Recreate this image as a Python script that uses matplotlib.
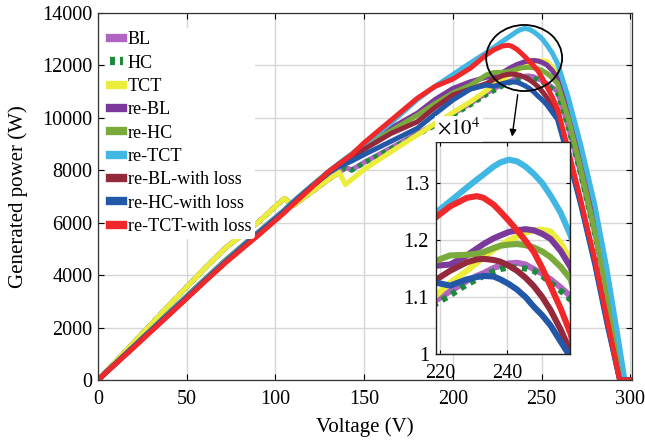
import matplotlib
matplotlib.use("Agg")
import matplotlib.pyplot as plt
from matplotlib.patches import Ellipse
from matplotlib.lines import Line2D

plt.rcParams["font.family"] = ["Liberation Serif", "DejaVu Serif"]
plt.rcParams["mathtext.fontset"] = "stix"

# Voltage grid (V) shared by all P-V curves
voltage = [0, 20, 40, 60, 72, 90, 105, 110, 120, 130, 136, 139.5, 143, 150, 165,
           180, 190, 200, 210,
           219, 223, 228, 231, 233, 236, 238, 240.5, 243, 245.5, 248, 250.5, 253, 256, 259,
           265, 272, 280, 287, 294, 297, 300]

# Generated power (W) for each configuration
bl = [0, 1420, 2850, 4250, 5050, 6000, 6930, 6650, 7150, 7650, 7920, 8100, 8020, 8300, 8850,
      9400, 9750, 10150, 10550,
      10950, 11100, 11280, 11370, 11420, 11510, 11550, 11590, 11600, 11570, 11490, 11410, 11310, 11170, 11010,
      9700, 7900, 5600, 3200, 500, 0, 0]
hc = [0, 1420, 2850, 4250, 5050, 6000, 6930, 6650, 7150, 7650, 7920, 8100, 8000, 8280, 8820,
      9360, 9710, 10100, 10500,
      10890, 11030, 11220, 11310, 11370, 11450, 11490, 11520, 11520, 11500, 11460, 11370, 11250, 11110, 10950,
      9650, 7850, 5550, 3150, 500, 0, 0]
tct = [0, 1420, 2850, 4250, 5050, 6000, 6930, 6650, 7150, 7650, 7920, 7450, 7650, 8030, 8700,
       9350, 9780, 10200, 10620,
       11040, 11250, 11460, 11600, 11700, 11830, 11900, 11990, 12060, 12130, 12170, 12180, 12150, 11950, 11650,
       10200, 8200, 5800, 3300, 600, 0, 0]
re_bl = [0, 1280, 2560, 3830, 4580, 5620, 6480, 6800, 7380, 7950, 8250, 8420, 8580, 8950, 9600,
         10180, 10700, 11120, 11380,
         11550, 11570, 11730, 11850, 11930, 12030, 12080, 12140, 12170, 12190, 12170, 12110, 12020, 11810, 11520,
         10300, 8400, 5900, 3400, 700, 0, 0]
re_hc = [0, 1280, 2560, 3830, 4580, 5620, 6480, 6800, 7380, 7950, 8230, 8400, 8550, 8900, 9500,
         10100, 10550, 10950, 11250,
         11640, 11730, 11740, 11760, 11790, 11860, 11900, 11920, 11930, 11910, 11870, 11800, 11700, 11530, 11310,
         10000, 8100, 5700, 3300, 600, 0, 0]
re_tct = [0, 1270, 2540, 3800, 4550, 5600, 6470, 6800, 7380, 7950, 8270, 8450, 8620, 9000, 9800,
          10700, 11200, 11650, 12100,
          12490, 12680, 12920, 13060, 13150, 13290, 13360, 13410, 13380, 13290, 13160, 13000, 12780, 12480, 12080,
          10800, 9000, 6700, 4200, 1300, 0, 0]
re_bl_loss = [0, 1250, 2500, 3760, 4500, 5560, 6420, 6750, 7350, 7900, 8200, 8350, 8480, 8800, 9400,
              9850, 10400, 10870, 11100,
              11310, 11460, 11610, 11660, 11670, 11650, 11620, 11550, 11460, 11340, 11190, 11000, 10770, 10430, 10030,
              8600, 6800, 4500, 2200, 0, 0, 0]
re_hc_loss = [0, 1260, 2520, 3780, 4520, 5580, 6440, 6760, 7350, 7900, 8150, 8250, 8350, 8600, 9100,
              9600, 10150, 10680, 11100,
              11250, 11200, 11310, 11350, 11370, 11360, 11310, 11230, 11130, 11000, 10830, 10680, 10500, 10220, 9940,
              8500, 6700, 4400, 2100, 0, 0, 0]
re_tct_loss = [0, 1230, 2480, 3740, 4480, 5500, 6380, 6700, 7320, 7950, 8250, 8420, 8600, 9050, 9900,
               10750, 11200, 11480, 11900,
               12410, 12590, 12740, 12770, 12740, 12620, 12500, 12340, 12170, 11990, 11790, 11510, 11190, 10800, 10350,
               8800, 6900, 4600, 2300, 0, 0, 0]

labels = ["BL", "HC", "TCT", "re-BL", "re-HC", "re-TCT",
          "re-BL-with loss", "re-HC-with loss", "re-TCT-with loss"]
powers = [bl, hc, tct, re_bl, re_hc, re_tct, re_bl_loss, re_hc_loss, re_tct_loss]
colors = ["#b165c3", "#1e8a3c", "#ecec3a", "#7b3a9b", "#7aa93c", "#41b7e4",
          "#93293b", "#2357a8", "#f0282a"]
styles = ["-", (0, (0.9, 0.9)), "-", "-", "-", "-", "-", "-", "-"]

W, H = 645, 442
fig = plt.figure(figsize=(W / 100, H / 100), dpi=100)
ax = fig.add_axes([98 / W, 1 - 380 / H, 534 / W, 367 / H])

for p, c, s in zip(powers, colors, styles):
    ax.plot(voltage, p, color=c, lw=3.6, ls=s, solid_joinstyle="round")

ax.set_xlim(0, 301)
ax.set_ylim(0, 14000)
ax.set_xticks(range(0, 301, 50))
ax.set_yticks(range(0, 14001, 2000))
ax.grid(True, color="#d6d6d6", lw=1.0)
ax.set_axisbelow(True)
ax.tick_params(direction="in", top=True, right=True, labelsize=14.5, length=4)
ax.tick_params(axis="x", pad=7)
ax.tick_params(axis="y", pad=4)
for sp in ax.spines.values():
    sp.set_color("#333333")
    sp.set_linewidth(0.9)
ax.set_xlabel("Voltage (V)", fontsize=15, labelpad=6)
ax.set_ylabel("Generated power (W)", fontsize=15, labelpad=10)

# Zoom marker and pointer to the inset
ax.add_patch(Ellipse((240.2, 12283), 42.8, 2520, fill=False, ec="black", lw=1.3, zorder=5))
ax.annotate("", xy=(233.2, 9180), xytext=(236.8, 10990),
            arrowprops=dict(arrowstyle="-|>", color="black", lw=1.0, mutation_scale=10),
            zorder=5)

handles = [Line2D([], [], color=c, lw=6, ls="-" if i != 1 else (0, (0.6, 0.6)))
           for i, c in enumerate(colors)]
leg = ax.legend(handles, labels, loc="upper left", bbox_to_anchor=(0.005, 0.975),
                fontsize=13.1, frameon=True, framealpha=1, edgecolor="white",
                handlelength=0.7, handletextpad=0.3, labelspacing=0.35,
                borderaxespad=0.3, borderpad=0.2)
leg.get_frame().set_linewidth(0)

# Inset: peak region
axin = fig.add_axes([436 / W, 1 - 354 / H, 134 / W, 212 / H])
for p, c, s in zip(powers, colors, styles):
    axin.plot(voltage, [v / 1e4 for v in p], color=c, lw=4.4, ls=s, solid_joinstyle="round")
axin.set_xlim(218.8, 258.8)
axin.set_ylim(1.0, 1.372)
axin.set_xticks([220, 240])
axin.set_yticks([1.0, 1.1, 1.2, 1.3])
axin.set_yticklabels(["1", "1.1", "1.2", "1.3"])
axin.grid(True, color="#d6d6d6", lw=1.0)
axin.set_axisbelow(True)
axin.tick_params(direction="in", top=True, right=True, labelsize=14.5, length=3)
axin.tick_params(axis="x", pad=7)
axin.tick_params(axis="y", pad=5)
for sp in axin.spines.values():
    sp.set_color("#222222")
    sp.set_linewidth(1.0)
fig.text(437 / W, 1 - 129 / H, r"$\times10^{4}$", fontsize=15, ha="left", va="center",
         bbox=dict(facecolor="white", edgecolor="none", pad=1.5))

fig.savefig("out.png", dpi=100)
